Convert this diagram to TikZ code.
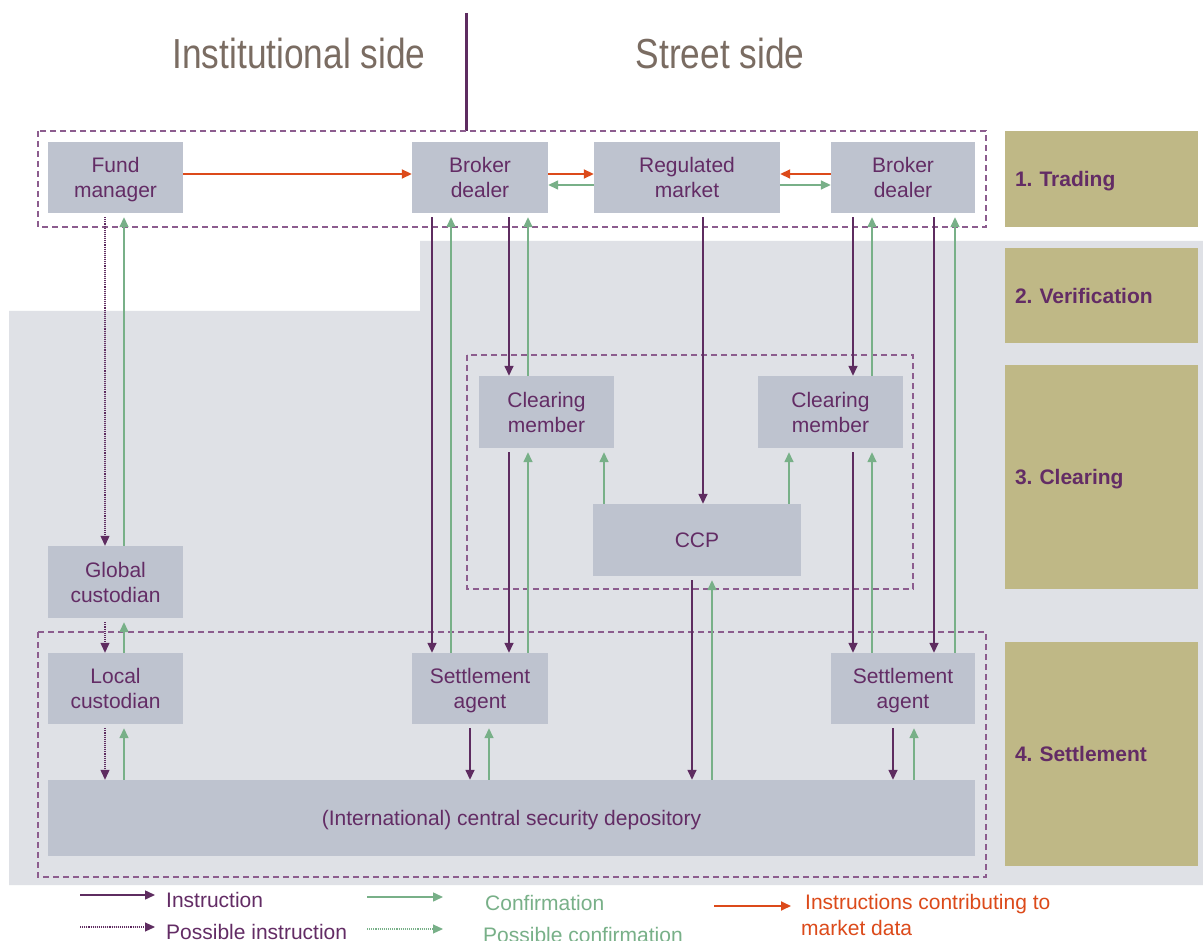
\documentclass[tikz,border=0pt]{standalone}
\usepackage{fontspec}
\setmainfont{Liberation Sans}
\usetikzlibrary{arrows.meta}
\definecolor{boxfill}{HTML}{BEC3CF}
\definecolor{bggrey}{HTML}{DFE1E6}
\definecolor{txtpurple}{HTML}{632C65}
\definecolor{instc}{HTML}{5E2C60}
\definecolor{confc}{HTML}{78B088}
\definecolor{orangec}{HTML}{DC4A1A}
\definecolor{phasec}{HTML}{BFB886}
\definecolor{titlec}{HTML}{7A6C62}
\definecolor{dashc}{HTML}{8C5C8E}
\frenchspacing
\begin{document}
\begin{tikzpicture}[x=1pt,y=-1pt,
  ent/.style={fill=boxfill, draw=none, text=txtpurple, align=center,
    font=\fontsize{21}{25}\selectfont, inner sep=0pt, text depth=0pt},
  phasebox/.style={fill=phasec, draw=none, text=txtpurple, align=left,
    font=\bfseries\fontsize{21}{25}\selectfont, inner xsep=10pt, inner ysep=0pt,
    minimum width=193pt, text width=173pt, text depth=0pt},
  titletxt/.style={text=titlec, inner sep=0pt},
  tip/.style={-{Triangle[length=10pt,width=9pt]}},
  inst/.style={tip, draw=instc, line width=1.5pt},
  pinst/.style={tip, draw=instc, line width=1.1pt, densely dotted},
  conf/.style={tip, draw=confc, line width=1.5pt},
  pconf/.style={tip, draw=confc, line width=1.1pt, densely dotted},
  ordr/.style={tip, draw=orangec, line width=1.8pt},
  dashbox/.style={draw=dashc, line width=1.5pt, dash pattern=on 6pt off 4pt},
  legtxt/.style={anchor=west, inner sep=0pt, font=\fontsize{21}{25}\selectfont, align=left}
]
\useasboundingbox (0,0) rectangle (1203,941);
\fill[white] (0,0) rectangle (1203,941);
% background grey region
\fill[bggrey] (9,311) -- (420,311) -- (420,241) -- (1203,241) -- (1203,885) -- (9,885) -- cycle;

% titles
\node[titletxt] (tinst) at (299,53) {\scalebox{0.84}[1]{\fontsize{42}{42}\selectfont Institutional side}};
\node[titletxt] (tstreet) at (720,53) {\scalebox{0.84}[1]{\fontsize{42}{42}\selectfont Street side}};
\draw[instc, line width=3pt] (466,13) -- (466,131);

% phase boxes
\node[phasebox, minimum height=96pt] (p1) at (1101.5,179) {1. Trading};
\node[phasebox, minimum height=95pt] (p2) at (1101.5,295.5) {2. Verification};
\node[phasebox, minimum height=224pt] (p3) at (1101.5,477) {3. Clearing};
\node[phasebox, minimum height=224pt] (p4) at (1101.5,754) {4. Settlement};

% dashed groups
\draw[dashbox] (38,131) rectangle (986,227);
\draw[dashbox] (467,355) rectangle (913,589);
\draw[dashbox] (38,632) rectangle (986,877);

% entities
\node[ent, minimum width=135pt, minimum height=71pt] (fm) at (115.5,177.5) {Fund\\manager};
\node[ent, minimum width=136pt, minimum height=71pt] (bdl) at (480,177.5) {Broker\\dealer};
\node[ent, minimum width=186pt, minimum height=71pt] (rm) at (687,177.5) {Regulated\\market};
\node[ent, minimum width=144pt, minimum height=71pt] (bdr) at (903,177.5) {Broker\\dealer};
\node[ent, minimum width=135pt, minimum height=72pt] (cml) at (546.5,412) {Clearing\\member};
\node[ent, minimum width=145pt, minimum height=72pt] (cmr) at (830.5,412) {Clearing\\member};
\node[ent, minimum width=208pt, minimum height=72pt] (ccp) at (697,540) {CCP};
\node[ent, minimum width=135pt, minimum height=72pt] (gc) at (115.5,582) {Global\\custodian};
\node[ent, minimum width=135pt, minimum height=71pt] (lc) at (115.5,688.5) {Local\\custodian};
\node[ent, minimum width=136pt, minimum height=71pt] (sal) at (480,688.5) {Settlement\\agent};
\node[ent, minimum width=144pt, minimum height=71pt] (sar) at (903,688.5) {Settlement\\agent};
\node[ent, minimum width=927pt, minimum height=76pt] (csd) at (511.5,818) {(International) central security depository};

% trading row horizontal arrows
\draw[ordr] ([yshift=3.5pt]fm.east) -- ([yshift=3.5pt]bdl.west);
\draw[ordr] ([yshift=3.5pt]bdl.east) -- ([yshift=3.5pt]rm.west);
\draw[conf] ([yshift=-7.5pt]rm.west) -- ([yshift=-7.5pt]bdl.east);
\draw[ordr] ([yshift=3.5pt]bdr.west) -- ([yshift=3.5pt]rm.east);
\draw[conf] ([yshift=-7.5pt]rm.east) -- ([yshift=-7.5pt]bdr.west);

% institutional chain
\draw[pinst] ([xshift=-10.5pt,yshift=-4pt]fm.south) -- ([xshift=-10.5pt]gc.north);
\draw[conf] ([xshift=8.5pt]gc.north) -- ([xshift=8.5pt,yshift=-4pt]fm.south);
\draw[pinst] ([xshift=-10.5pt,yshift=-4pt]gc.south) -- ([xshift=-10.5pt]lc.north);
\draw[conf] ([xshift=8.5pt]lc.north) -- ([xshift=8.5pt,yshift=-4pt]gc.south);
\draw[pinst] ([xshift=-10.5pt,yshift=-4pt]lc.south) -- ([xshift=-406.5pt]csd.north);
\draw[conf] ([xshift=-387.5pt]csd.north) -- ([xshift=8.5pt,yshift=-4pt]lc.south);

% left broker dealer
\draw[inst] ([xshift=-48pt,yshift=-4pt]bdl.south) -- ([xshift=-48pt]sal.north);
\draw[conf] ([xshift=-29pt]sal.north) -- ([xshift=-29pt,yshift=-4pt]bdl.south);
\draw[inst] ([xshift=29pt,yshift=-4pt]bdl.south) -- ([xshift=-37.5pt]cml.north);
\draw[conf] ([xshift=-18.5pt]cml.north) -- ([xshift=48pt,yshift=-4pt]bdl.south);
\draw[inst] ([xshift=-37.5pt,yshift=-4pt]cml.south) -- ([xshift=29pt]sal.north);
\draw[conf] ([xshift=48pt]sal.north) -- ([xshift=-18.5pt,yshift=-4pt]cml.south);

% regulated market / CCP
\draw[inst] ([xshift=16pt,yshift=-4pt]rm.south) -- ([xshift=6pt]ccp.north);
\draw[conf] ([xshift=-93pt]ccp.north) -- ([xshift=57.5pt,yshift=-4pt]cml.south);
\draw[conf] ([xshift=92pt]ccp.north) -- ([xshift=-41.5pt,yshift=-4pt]cmr.south);
\draw[inst] ([xshift=-5pt,yshift=-4pt]ccp.south) -- ([xshift=180.5pt]csd.north);
\draw[conf] ([xshift=200.5pt]csd.north) -- ([xshift=15pt,yshift=-4pt]ccp.south);

% right broker dealer
\draw[inst] ([xshift=-50pt,yshift=-4pt]bdr.south) -- ([xshift=22.5pt]cmr.north);
\draw[conf] ([xshift=41.5pt]cmr.north) -- ([xshift=-31pt,yshift=-4pt]bdr.south);
\draw[inst] ([xshift=31pt,yshift=-4pt]bdr.south) -- ([xshift=31pt]sar.north);
\draw[conf] ([xshift=52pt]sar.north) -- ([xshift=52pt,yshift=-4pt]bdr.south);
\draw[inst] ([xshift=22.5pt,yshift=-4pt]cmr.south) -- ([xshift=-50pt]sar.north);
\draw[conf] ([xshift=-31pt]sar.north) -- ([xshift=41.5pt,yshift=-4pt]cmr.south);

% settlement agents to CSD
\draw[inst] ([xshift=-10pt,yshift=-4pt]sal.south) -- ([xshift=-41.5pt]csd.north);
\draw[conf] ([xshift=-22.5pt]csd.north) -- ([xshift=9pt,yshift=-4pt]sal.south);
\draw[inst] ([xshift=-10pt,yshift=-4pt]sar.south) -- ([xshift=381.5pt]csd.north);
\draw[conf] ([xshift=402.5pt]csd.north) -- ([xshift=11pt,yshift=-4pt]sar.south);

% legend
\coordinate (la1) at (80,895); \coordinate (lb1) at (155,895);
\draw[inst] (la1) -- (lb1);
\node[legtxt, text=txtpurple] (lt1) at (166,900) {Instruction};
\coordinate (la2) at (80,927); \coordinate (lb2) at (155,927);
\draw[pinst] (la2) -- (lb2);
\node[legtxt, text=txtpurple] (lt2) at (166,932) {Possible instruction};
\coordinate (la3) at (367,897); \coordinate (lb3) at (443,897);
\draw[conf] (la3) -- (lb3);
\node[legtxt, text=confc] (lt3) at (485,903) {Confirmation};
\coordinate (la4) at (367,929); \coordinate (lb4) at (443,929);
\draw[pconf] (la4) -- (lb4);
\node[legtxt, text=confc] (lt4) at (483,935) {Possible confirmation};
\coordinate (la5) at (714,906); \coordinate (lb5) at (791,906);
\draw[ordr] (la5) -- (lb5);
\node[legtxt, text=orangec] (lt5) at (805,904) {Instructions contributing to};
\node[legtxt, text=orangec] (lt6) at (801,928) {market data};
\end{tikzpicture}
\end{document}
